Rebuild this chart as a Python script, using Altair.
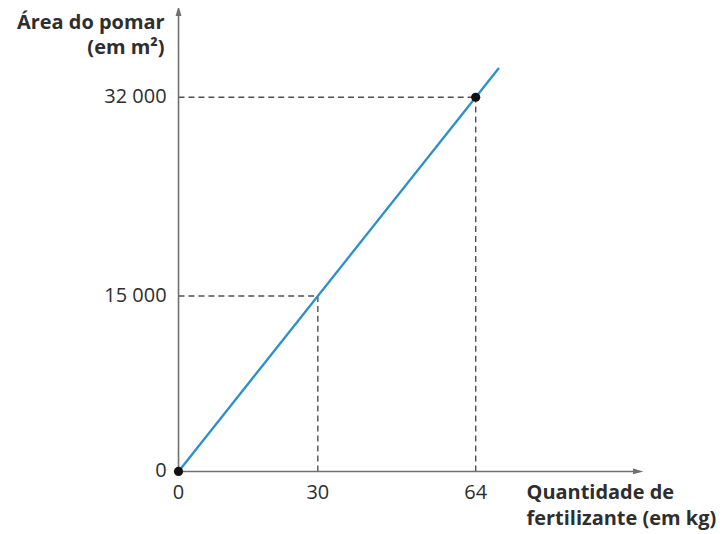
import altair as alt
import pandas as pd

# Data
x_ticks = [0, 30, 64]
x_tick_labels = ["0", "30", "64"]
y_ticks = [0, 15000, 32000]
y_tick_labels = ["0", "15 000", "32 000"]
line_x = [0, 69]
line_y = [0, 34500]
point_x = [0, 64]
point_y = [0, 32000]
guide_x = [30, 64]
guide_y = [15000, 32000]
x_max = 99
y_max = 39400

xs = alt.Scale(domain=[0, x_max], nice=False, zero=False)
ys = alt.Scale(domain=[0, y_max], nice=False, zero=False)
FONT = "Open Sans"
AXIS_C = "#707070"
TEXT_C = "#2e2e2e"

def X(f="x"):
    return alt.X(f, type="quantitative", scale=xs, axis=None)

def Y(f="y"):
    return alt.Y(f, type="quantitative", scale=ys, axis=None)

guides = pd.DataFrame({"x": guide_x, "y": guide_y, "zero": [0] * len(guide_x)})
h_dash = alt.Chart(guides).mark_rule(strokeDash=[6, 4], color="#505050", strokeWidth=1.4).encode(
    x=alt.X("zero:Q", scale=xs, axis=None), x2="x:Q", y=Y()
)
v_dash = alt.Chart(guides).mark_rule(strokeDash=[6, 4], color="#505050", strokeWidth=1.4).encode(
    x=X(), y=alt.Y("zero:Q", scale=ys, axis=None), y2="y:Q"
)

axes_df = pd.DataFrame({"x0": [0, 0], "x1": [x_max, 0], "y0": [0, 0], "y1": [0, y_max]})
axes = alt.Chart(axes_df).mark_rule(color=AXIS_C, strokeWidth=1.6).encode(
    x=alt.X("x0:Q", scale=xs, axis=None), x2="x1:Q",
    y=alt.Y("y0:Q", scale=ys, axis=None), y2="y1:Q"
)
arrow_r = alt.Chart(pd.DataFrame({"x": [x_max], "y": [0]})).mark_point(
    shape="M-1,-0.55L1,0L-1,0.55Z", filled=True, color=AXIS_C, size=110, opacity=1
).encode(x=X(), y=Y())
arrow_u = alt.Chart(pd.DataFrame({"x": [0], "y": [y_max]})).mark_point(
    shape="M-0.55,1L0,-1L0.55,1Z", filled=True, color=AXIS_C, size=110, opacity=1
).encode(x=X(), y=Y())

line_df = pd.DataFrame({"x": line_x, "y": line_y})
line = alt.Chart(line_df).mark_line(color="#2b8fcc", strokeWidth=2.3).encode(x=X(), y=Y())

pts = alt.Chart(pd.DataFrame({"x": point_x, "y": point_y})).mark_point(
    filled=True, color="#111111", size=85, opacity=1
).encode(x=X(), y=Y())

xlab = alt.Chart(pd.DataFrame({"x": x_ticks, "t": x_tick_labels})).mark_text(
    font=FONT, fontSize=20, color=TEXT_C, baseline="middle", align="center"
).encode(x=X(), y=alt.value(484), text="t:N")
ylab = alt.Chart(pd.DataFrame({"y": y_ticks, "t": y_tick_labels})).mark_text(
    font=FONT, fontSize=20, color=TEXT_C, baseline="middle", align="right"
).encode(y=Y(), x=alt.value(-12), text="t:N")

ytitle = alt.Chart(pd.DataFrame({"t": ["Área do pomar", "(em m²)"], "py": [12, 37]})).mark_text(
    font=FONT, fontSize=20, fontWeight="bold", color=TEXT_C, baseline="middle", align="right"
).encode(x=alt.value(-14), y=alt.Y("py:Q", scale=None), text="t:N")
xtitle = alt.Chart(pd.DataFrame({"t": ["Quantidade de", "fertilizante (em kg)"], "py": [484, 510]})).mark_text(
    font=FONT, fontSize=20, fontWeight="bold", color=TEXT_C, baseline="middle", align="left"
).encode(x=alt.value(349), y=alt.Y("py:Q", scale=None), text="t:N")

chart = alt.layer(
    h_dash, v_dash, axes, arrow_r, arrow_u, line, pts, xlab, ylab, ytitle, xtitle
).properties(
    width=461, height=462,
    autosize=alt.AutoSizeParams(type="none"),
    padding={"left": 171, "top": 2, "right": 80, "bottom": 60},
    background="white",
).configure_view(stroke=None, strokeWidth=0)

chart.save("out.html", embed_options={"renderer": "svg", "actions": False})
